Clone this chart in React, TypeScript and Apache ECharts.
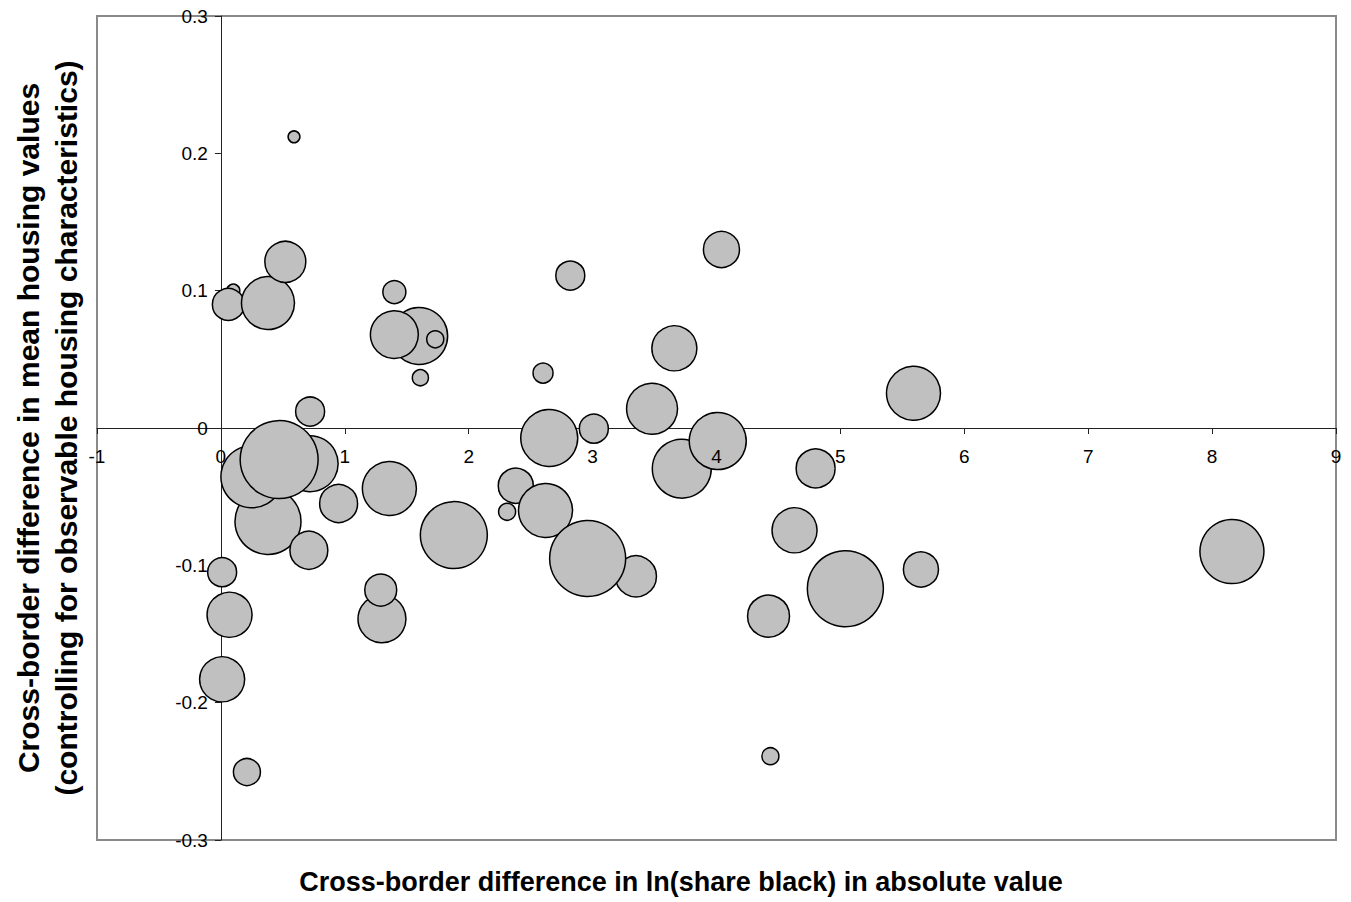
import React, { useEffect, useRef } from "react";
import * as echarts from "echarts";

// Cross-border difference in ln(share black), absolute value
const xValues = [
  0.10, 0.06, 0.38, 0.52, 0.59, 1.60, 1.40, 1.73, 1.40, 1.61,
  0.72, 0.38, 0.25, 0.72, 0.47, 0.95, 1.36, 1.88, 0.71, 0.01,
  0.07, 0.01, 0.21, 1.30, 1.29, 2.82, 2.60, 3.66, 3.48, 2.65,
  3.01, 3.72, 4.01, 4.04, 2.38, 2.31, 2.62, 3.35, 2.96, 5.59,
  4.80, 4.63, 5.04, 5.65, 4.42, 4.435, 8.16,
];
// Cross-border difference in mean housing values
const yValues = [
  0.100, 0.090, 0.091, 0.121, 0.212, 0.067, 0.068, 0.0646, 0.099, 0.0366,
  0.012, -0.068, -0.0355, -0.026, -0.023, -0.055, -0.044, -0.078, -0.089, -0.105,
  -0.136, -0.183, -0.2505, -0.139, -0.118, 0.111, 0.040, 0.058, 0.014, -0.0073,
  -0.0005, -0.0296, -0.0095, 0.130, -0.042, -0.061, -0.060, -0.108, -0.095, 0.0253,
  -0.0294, -0.0745, -0.117, -0.103, -0.137, -0.239, -0.090,
];
// Bubble weights (relative area)
const weights = [
  1.7, 10.2, 28.1, 16.8, 1.4, 32.5, 23.0, 2.9, 5.3, 2.6,
  8.4, 43.6, 38.4, 31.4, 60.8, 14.4, 29.2, 44.9, 14.4, 8.4,
  20.3, 20.3, 7.3, 23.0, 10.2, 8.4, 4.0, 20.3, 26.0, 32.5,
  8.4, 34.8, 32.5, 13.0, 12.3, 2.9, 29.2, 16.8, 57.8, 29.2,
  15.2, 20.3, 57.8, 12.3, 17.6, 2.9, 41.0,
];

const xMin = -1;
const xMax = 9;
const yMin = -0.3;
const yMax = 0.3;

const xTitle = "Cross-border difference in ln(share black) in absolute value";
const yTitleLines = [
  "Cross-border difference in mean housing values",
  "(controlling for observable housing characteristics)",
];

export default function App() {
  const ref = useRef<HTMLDivElement>(null);
  useEffect(() => {
    if (!ref.current) return;
    const chart = echarts.init(ref.current, undefined, { renderer: "svg" });
    const data = xValues.map((x, i) => [x, yValues[i], weights[i]]);
    const axisColor = "#222";
    const gridLeft = 97, gridRight = 15, gridTop = 16, gridBottom = 62;
    const gw = 1351 - gridLeft - gridRight;
    const gh = 902 - gridTop - gridBottom;
    // shift axes so that they cross at (0, 0)
    const xAxisOffset = -gh * ((0 - yMin) / (yMax - yMin));
    const yAxisOffset = -gw * ((0 - xMin) / (xMax - xMin));
    const labelFont = {
      color: "#000",
      fontFamily: "Liberation Sans, Arial, sans-serif",
      fontSize: 19,
    };
    chart.setOption({
      animation: false,
      grid: {
        left: gridLeft,
        right: gridRight,
        top: gridTop,
        bottom: gridBottom,
        show: true,
        borderColor: "#8a8a8a",
        borderWidth: 2,
        backgroundColor: "#fff",
      },
      xAxis: [
        {
          type: "value",
          min: xMin,
          max: xMax,
          interval: 1,
          position: "bottom",
          offset: xAxisOffset,
          splitLine: { show: false },
          axisLine: { show: true, onZero: false, lineStyle: { color: axisColor, width: 1 } },
          axisTick: { show: true, length: 6, lineStyle: { color: axisColor } },
          axisLabel: { show: false },
        },
        {
          // label layer drawn above the bubbles
          type: "value",
          min: xMin,
          max: xMax,
          interval: 1,
          position: "bottom",
          offset: xAxisOffset,
          z: 5,
          splitLine: { show: false },
          axisLine: { show: false, onZero: false },
          axisTick: { show: false },
          axisLabel: { ...labelFont, margin: 19 },
        },
      ],
      yAxis: {
        type: "value",
        min: yMin,
        max: yMax,
        interval: 0.1,
        position: "left",
        offset: yAxisOffset,
        splitLine: { show: false },
        axisLine: { show: true, onZero: false, lineStyle: { color: axisColor, width: 1 } },
        axisTick: { show: true, length: 6, lineStyle: { color: axisColor } },
        axisLabel: {
          ...labelFont,
          margin: 13,
          formatter: (v: number) => {
            const r = Math.round(v * 10) / 10;
            return r === 0 ? "0" : r.toFixed(1);
          },
        },
      },
      series: [
        {
          type: "scatter",
          xAxisIndex: 0,
          data,
          symbol: "circle",
          symbolSize: (val: number[]) => 10 * Math.sqrt(val[2]),
          itemStyle: {
            color: "#c0c0c0",
            borderColor: "#000",
            borderWidth: 1.5,
            opacity: 1,
          },
          emphasis: { disabled: true },
        },
      ],
      graphic: [
        {
          type: "text",
          x: 681,
          y: 882,
          style: {
            text: xTitle,
            fontFamily: "Liberation Sans, Arial, sans-serif",
            fontWeight: "bold",
            fontSize: 27,
            fill: "#000",
            align: "center",
            verticalAlign: "middle",
          },
        },
        {
          type: "text",
          x: 47,
          y: 428,
          rotation: Math.PI / 2,
          style: {
            text: yTitleLines.join("\n"),
            fontFamily: "Liberation Sans, Arial, sans-serif",
            fontWeight: "bold",
            fontSize: 30,
            lineHeight: 38,
            fill: "#000",
            align: "center",
            verticalAlign: "middle",
          },
        },
      ],
    });
    return () => chart.dispose();
  }, []);
  return (
    <div
      ref={ref}
      style={{ position: "absolute", left: 0, top: 0, width: 1351, height: 902, background: "#fff" }}
    />
  );
}
